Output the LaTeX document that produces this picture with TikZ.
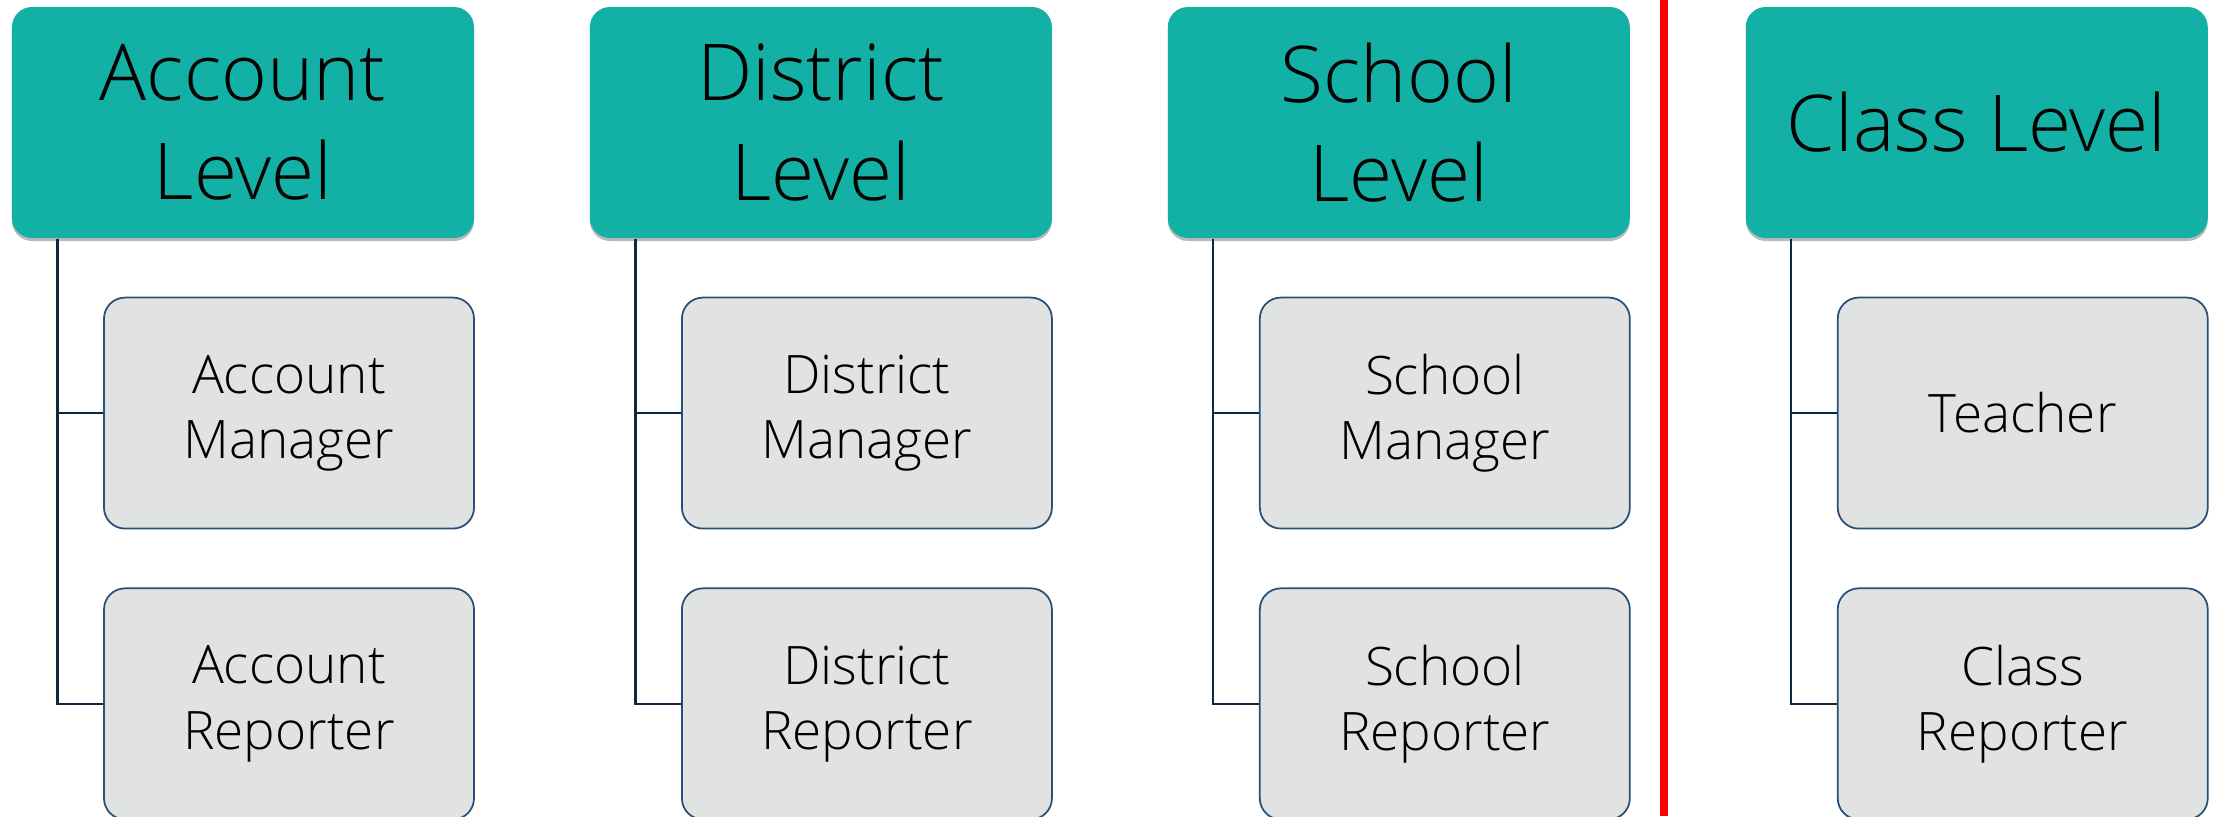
\documentclass[tikz,border=0pt]{standalone}
\usepackage{fontspec}
\setmainfont{Open Sans}[UprightFont={* Light}]
\usepackage{tikz}
\usetikzlibrary{positioning,calc,shadows}

\definecolor{levelteal}{RGB}{19,176,165}
\definecolor{rolegray}{RGB}{225,227,227}
\definecolor{roleedge}{RGB}{40,80,120}
\definecolor{linknavy}{RGB}{14,40,66}

\tikzset{
  level/.style={rectangle, rounded corners=0.2cm, fill=levelteal,
    minimum width=4.62cm, minimum height=2.31cm, align=center,
    font=\fontsize{22.3}{28.2}\selectfont,
    drop shadow={shadow xshift=0cm, shadow yshift=-0.03cm, opacity=0.45, fill=black!60}},
  role/.style={rectangle, rounded corners=0.21cm, fill=rolegray, draw=roleedge,
    line width=0.5pt, minimum width=3.70cm, minimum height=2.31cm, align=center,
    font=\fontsize{15.1}{18.5}\selectfont},
  link/.style={draw=linknavy, line width=0.75pt},
  divider/.style={draw=red, line width=0.08cm}
}

\begin{document}
\begin{tikzpicture}
\useasboundingbox (0,0) rectangle (22.18,8.16);

% level headers
\node[level] (acc) at (2.43,6.935) {Account\\Level};
\node[level, right=1.145cm of acc] (dis) {District\\Level};
\node[level, right=1.145cm of dis] (sch) {School\\Level};
\node[level, right=1.145cm of sch] (cls) {Class Level};

% roles under each level
\node[role, below=0.58cm of acc, xshift=0.46cm] (acc1) {Account\\Manager};
\node[role, below=0.58cm of acc1] (acc2) {Account\\Reporter};
\node[role, below=0.58cm of dis, xshift=0.46cm] (dis1) {District\\Manager};
\node[role, below=0.58cm of dis1] (dis2) {District\\Reporter};
\node[role, below=0.58cm of sch, xshift=0.46cm] (sch1) {School\\Manager};
\node[role, below=0.58cm of sch1] (sch2) {School\\Reporter};
\node[role, below=0.58cm of cls, xshift=0.46cm] (cls1) {Teacher};
\node[role, below=0.58cm of cls1] (cls2) {Class\\Reporter};

% trunks
\coordinate (accT) at ($(acc.south west)+(0.46,0)$);
\coordinate (disT) at ($(dis.south west)+(0.46,0)$);
\coordinate (schT) at ($(sch.south west)+(0.46,0)$);
\coordinate (clsT) at ($(cls.south west)+(0.46,0)$);
\draw[link] (accT) |- (acc1.west);
\draw[link] (accT) |- (acc2.west);
\draw[link] (disT) |- (dis1.west);
\draw[link] (disT) |- (dis2.west);
\draw[link] (schT) |- (sch1.west);
\draw[link] (schT) |- (sch2.west);
\draw[link] (clsT) |- (cls1.west);
\draw[link] (clsT) |- (cls2.west);

% separator
\coordinate (sepT) at (16.64,8.16);
\coordinate (sepB) at (16.64,0);
\draw[divider] (sepT) -- (sepB);
\end{tikzpicture}
\end{document}
